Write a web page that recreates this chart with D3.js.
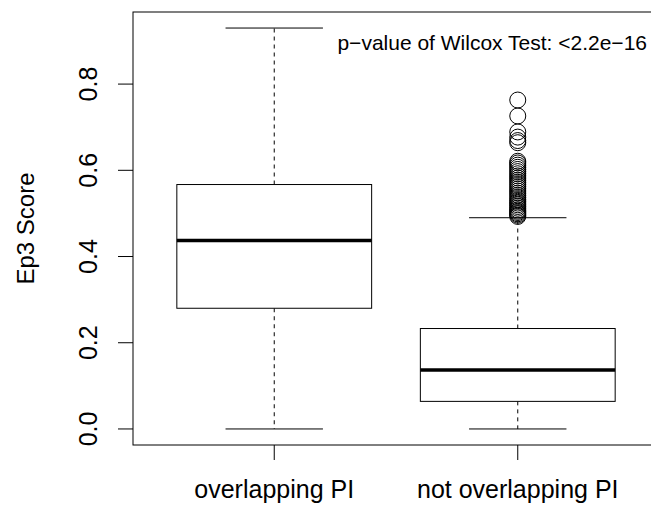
<!DOCTYPE html>
<html>
<head>
<meta charset="utf-8">
<script src="https://cdn.jsdelivr.net/npm/d3@7"></script>
<style>
  body { margin: 0; background: #fff; }
  text { font-family: "Liberation Sans", Arial, Helvetica, sans-serif; fill: #000; }
</style>
</head>
<body>
<div id="chart"></div>
<script>
// box statistics
const categories = ["overlapping PI", "not overlapping PI"];
const whiskerLow = [0.0, 0.0];
const q1 = [0.280, 0.064];
const median = [0.437, 0.137];
const q3 = [0.567, 0.233];
const whiskerHigh = [0.930, 0.490];
// outliers of the second group only
const outliers = [0.493, 0.496, 0.499, 0.502, 0.505, 0.508, 0.512, 0.516, 0.520, 0.524,
  0.528, 0.532, 0.537, 0.542, 0.547, 0.552, 0.557, 0.562, 0.567, 0.572, 0.577, 0.582,
  0.587, 0.592, 0.597, 0.602, 0.607, 0.612, 0.617, 0.621, 0.664, 0.669, 0.677, 0.689,
  0.726, 0.763];
const yTicks = [0, 0.2, 0.4, 0.6, 0.8];
const pText = "p\u2212value of Wilcox Test: <2.2e\u221216";

const W = 651, H = 512;
const plotLeft = 133, plotTop = 12, plotBottom = 445, plotW = 526;

const svg = d3.select("#chart").append("svg")
    .attr("width", W)
    .attr("height", H);

svg.append("rect").attr("width", W).attr("height", H).attr("fill", "#fff");

// R style 4% padding on the data range
let lo = d3.min(whiskerLow), hi = d3.max(whiskerHigh.concat(outliers));
let pad = (hi - lo) * 0.04;
const y = d3.scaleLinear().domain([lo - pad, hi + pad]).range([plotBottom, plotTop]);
const x = d3.scaleLinear().domain([0.42, 2.58]).range([plotLeft, plotLeft + plotW]);

const g = svg.append("g");

categories.forEach((c, i) => {
    let cx = x(i + 1);
    let half = x(i + 1.4) - cx;
    let staple = x(i + 1.2) - cx;

    // whiskers
    g.append("line")
        .attr("x1", cx).attr("x2", cx)
        .attr("y1", y(q3[i])).attr("y2", y(whiskerHigh[i]))
        .attr("stroke", "#000").attr("stroke-dasharray", "4,4");
    g.append("line")
        .attr("x1", cx).attr("x2", cx)
        .attr("y1", y(q1[i])).attr("y2", y(whiskerLow[i]))
        .attr("stroke", "#000").attr("stroke-dasharray", "4,4");
    [whiskerHigh[i], whiskerLow[i]].forEach(v => {
        g.append("line")
            .attr("x1", cx - staple).attr("x2", cx + staple)
            .attr("y1", y(v)).attr("y2", y(v))
            .attr("stroke", "#000");
    });

    // box
    g.append("rect")
        .attr("x", cx - half)
        .attr("y", y(q3[i]))
        .attr("width", half * 2)
        .attr("height", y(q1[i]) - y(q3[i]))
        .attr("fill", "#fff")
        .attr("stroke", "#000");

    // median
    g.append("line")
        .attr("x1", cx - half).attr("x2", cx + half)
        .attr("y1", y(median[i])).attr("y2", y(median[i]))
        .attr("stroke", "#000").attr("stroke-width", 3.5);
});

// outlier circles
g.selectAll("circle")
    .data(outliers)
    .enter()
    .append("circle")
    .attr("cx", x(2))
    .attr("cy", d => y(d))
    .attr("r", 8)
    .attr("fill", "none")
    .attr("stroke", "#000");

// frame
svg.append("rect")
    .attr("x", plotLeft).attr("y", plotTop)
    .attr("width", plotW).attr("height", plotBottom - plotTop)
    .attr("fill", "none").attr("stroke", "#000");

// y axis
svg.selectAll(".ytick")
    .data(yTicks)
    .enter()
    .append("line")
    .attr("class", "ytick")
    .attr("x1", plotLeft - 15).attr("x2", plotLeft)
    .attr("y1", d => y(d)).attr("y2", d => y(d))
    .attr("stroke", "#000");

svg.selectAll(".ylab")
    .data(yTicks)
    .enter()
    .append("text")
    .attr("class", "ylab")
    .attr("transform", d => `translate(97,${y(d)}) rotate(-90)`)
    .attr("text-anchor", "middle")
    .style("font-size", "25px")
    .text(d => d3.format(".1f")(d));

// x axis
categories.forEach((c, i) => {
    svg.append("line")
        .attr("x1", x(i + 1)).attr("x2", x(i + 1))
        .attr("y1", plotBottom).attr("y2", plotBottom + 15)
        .attr("stroke", "#000");
    svg.append("text")
        .attr("x", x(i + 1))
        .attr("y", 498)
        .attr("text-anchor", "middle")
        .style("font-size", "25px")
        .text(c);
});

svg.append("text")
    .attr("transform", `translate(34,${(plotTop + plotBottom) / 2}) rotate(-90)`)
    .attr("text-anchor", "middle")
    .style("font-size", "24px")
    .text("Ep3 Score");

svg.append("text")
    .attr("x", 647)
    .attr("y", 50)
    .attr("text-anchor", "end")
    .style("font-size", "21px")
    .text(pText);
</script>
</body>
</html>
